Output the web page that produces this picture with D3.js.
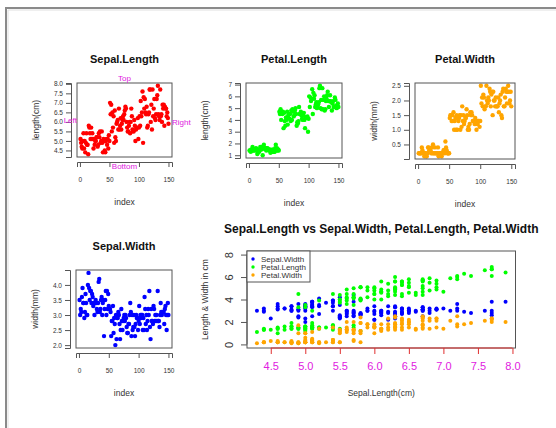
<!DOCTYPE html>
<html><head><meta charset="utf-8">
<script src="https://cdn.jsdelivr.net/npm/d3@7"></script>
<style>body{margin:0;background:#fff}svg{display:block;font-family:"Liberation Sans",Arial,sans-serif}</style>
</head><body><svg id="c" width="556" height="428"></svg>
<script>
const sepalLength=[5.1,4.9,4.7,4.6,5.0,5.4,4.6,5.0,4.4,4.9,5.4,4.8,4.8,4.3,5.8,5.7,5.4,5.1,5.7,5.1,5.4,5.1,4.6,5.1,4.8,5.0,5.0,5.2,5.2,4.7,4.8,5.4,5.2,5.5,4.9,5.0,5.5,4.9,4.4,5.1,5.0,4.5,4.4,5.0,5.1,4.8,5.1,4.6,5.3,5.0,
7.0,6.4,6.9,5.5,6.5,5.7,6.3,4.9,6.6,5.2,5.0,5.9,6.0,6.1,5.6,6.7,5.6,5.8,6.2,5.6,5.9,6.1,6.3,6.1,6.4,6.6,6.8,6.7,6.0,5.7,5.5,5.5,5.8,6.0,5.4,6.0,6.7,6.3,5.6,5.5,5.5,6.1,5.8,5.0,5.6,5.7,5.7,6.2,5.1,5.7,
6.3,5.8,7.1,6.3,6.5,7.6,4.9,7.3,6.7,7.2,6.5,6.4,6.8,5.7,5.8,6.4,6.5,7.7,7.7,6.0,6.9,5.6,7.7,6.3,6.7,7.2,6.2,6.1,6.4,7.2,7.4,7.9,6.4,6.3,6.1,7.7,6.3,6.4,6.0,6.9,6.7,6.9,5.8,6.8,6.7,6.7,6.3,6.5,6.2,5.9];
const sepalWidth=[3.5,3.0,3.2,3.1,3.6,3.9,3.4,3.4,2.9,3.1,3.7,3.4,3.0,3.0,4.0,4.4,3.9,3.5,3.8,3.8,3.4,3.7,3.6,3.3,3.4,3.0,3.4,3.5,3.4,3.2,3.1,3.4,4.1,4.2,3.1,3.2,3.5,3.6,3.0,3.4,3.5,2.3,3.2,3.5,3.8,3.0,3.8,3.2,3.7,3.3,
3.2,3.2,3.1,2.3,2.8,2.8,3.3,2.4,2.9,2.7,2.0,3.0,2.2,2.9,2.9,3.1,3.0,2.7,2.2,2.5,3.2,2.8,2.5,2.8,2.9,3.0,2.8,3.0,2.9,2.6,2.4,2.4,2.7,2.7,3.0,3.4,3.1,2.3,3.0,2.5,2.6,3.0,2.6,2.3,2.7,3.0,2.9,2.9,2.5,2.8,
3.3,2.7,3.0,2.9,3.0,3.0,2.5,2.9,2.5,3.6,3.2,2.7,3.0,2.5,2.8,3.2,3.0,3.8,2.6,2.2,3.2,2.8,2.8,2.7,3.3,3.2,2.8,3.0,2.8,3.0,2.8,3.8,2.8,2.8,2.6,3.0,3.4,3.1,3.0,3.1,3.1,3.1,2.7,3.2,3.3,3.0,2.5,3.0,3.4,3.0];
const petalLength=[1.4,1.4,1.3,1.5,1.4,1.7,1.4,1.5,1.4,1.5,1.5,1.6,1.4,1.1,1.2,1.5,1.3,1.4,1.7,1.5,1.7,1.5,1.0,1.7,1.9,1.6,1.6,1.5,1.4,1.6,1.6,1.5,1.5,1.4,1.5,1.2,1.3,1.4,1.3,1.5,1.3,1.3,1.3,1.6,1.9,1.4,1.6,1.4,1.5,1.4,
4.7,4.5,4.9,4.0,4.6,4.5,4.7,3.3,4.6,3.9,3.5,4.2,4.0,4.7,3.6,4.4,4.5,4.1,4.5,3.9,4.8,4.0,4.9,4.7,4.3,4.4,4.8,5.0,4.5,3.5,3.8,3.7,3.9,5.1,4.5,4.5,4.7,4.4,4.1,4.0,4.4,4.6,4.0,3.3,4.2,4.2,4.2,4.3,3.0,4.1,
6.0,5.1,5.9,5.6,5.8,6.6,4.5,6.3,5.8,6.1,5.1,5.3,5.5,5.0,5.1,5.3,5.5,6.7,6.9,5.0,5.7,4.9,6.7,4.9,5.7,6.0,4.8,4.9,5.6,5.8,6.1,6.4,5.6,5.1,5.6,6.1,5.6,5.5,4.8,5.4,5.6,5.1,5.1,5.9,5.7,5.2,5.0,5.2,5.4,5.1];
const petalWidth=[0.2,0.2,0.2,0.2,0.2,0.4,0.3,0.2,0.2,0.1,0.2,0.2,0.1,0.1,0.2,0.4,0.4,0.3,0.3,0.3,0.2,0.4,0.2,0.5,0.2,0.2,0.4,0.2,0.2,0.2,0.2,0.4,0.1,0.2,0.2,0.2,0.2,0.1,0.2,0.2,0.3,0.3,0.2,0.6,0.4,0.3,0.2,0.2,0.2,0.2,
1.4,1.5,1.5,1.3,1.5,1.3,1.6,1.0,1.3,1.4,1.0,1.5,1.0,1.4,1.3,1.4,1.5,1.0,1.5,1.1,1.8,1.3,1.5,1.2,1.3,1.4,1.4,1.7,1.5,1.0,1.1,1.0,1.2,1.6,1.5,1.6,1.5,1.3,1.3,1.3,1.2,1.4,1.2,1.0,1.3,1.2,1.3,1.3,1.1,1.3,
2.5,1.9,2.1,1.8,2.2,2.1,1.7,1.8,1.8,2.5,2.0,1.9,2.1,2.0,2.4,2.3,1.8,2.2,2.3,1.5,2.3,2.0,2.0,1.8,2.1,1.8,1.8,1.8,2.1,1.6,1.9,2.0,2.2,1.5,1.4,2.3,2.4,1.8,1.8,2.1,2.4,2.3,1.9,2.3,2.5,2.3,1.9,2.0,2.3,1.8];

const smallXTicks=[0,50,100,150];
const sepalLengthTicks=[4.5,5.0,5.5,6.0,6.5,7.0,7.5,8.0];
const petalLengthTicks=[1,2,3,4,5,6,7];
const petalWidthTicks=[0.5,1.0,1.5,2.0,2.5];
const sepalWidthTicks=[2.0,2.5,3.0,3.5,4.0];
const bigXTicks=[4.5,5.0,5.5,6.0,6.5,7.0,7.5,8.0];
const bigYTicks=[0,2,4,6,8];
const seriesNames=["Sepal.Width","Petal.Length","Petal.Width"];
const seriesColors=["#0000ff","#00ff00","#ffa500"];

const svg=d3.select("#c");
const FONT='"Liberation Sans",Arial,sans-serif';

// window frame
svg.append("path").attr("d","M6,430 V8 H560").attr("fill","none").attr("stroke","#8a8a8a").attr("stroke-width",2);
svg.append("path").attr("d","M8,430 V10 H560").attr("fill","none").attr("stroke","#e0e0e0").attr("stroke-width",1);

function ext(vals){const mn=d3.min(vals),mx=d3.max(vals),r=mx-mn;return [mn-0.04*r,mx+0.04*r];}

function smallPanel(o){
  const g=svg.append("g");
  const idx=o.values.map((d,i)=>i+1);
  const x=d3.scaleLinear().domain(ext(idx)).range([o.x0,o.x1]);
  const y=d3.scaleLinear().domain(ext(o.values)).range([o.y1,o.y0]);
  g.append("g").selectAll("circle").data(o.values).join("circle")
    .attr("cx",(d,i)=>x(i+1)).attr("cy",d=>y(d)).attr("r",2.2).attr("fill",o.color);
  g.append("rect").attr("x",o.x0).attr("y",o.y0).attr("width",o.x1-o.x0).attr("height",o.y1-o.y0)
    .attr("fill","none").attr("stroke","#555").attr("stroke-width",1);
  const xa=d3.axisBottom(x).tickValues(smallXTicks).tickSize(5).tickPadding(10).tickFormat(d3.format("d"));
  const gx=g.append("g").attr("transform",`translate(0,${o.y1+5})`).call(xa);
  gx.select(".domain").attr("stroke","#555");
  gx.selectAll(".tick line").attr("stroke","#555");
  gx.selectAll("text").attr("font-family",FONT).attr("font-size",6.5).attr("fill","#333");
  const ya=d3.axisLeft(y).tickValues(o.ticks).tickSize(5).tickPadding(3).tickFormat(o.fmt);
  const gy=g.append("g").attr("transform",`translate(${o.x0-6},0)`).call(ya);
  gy.select(".domain").attr("stroke","#555");
  gy.selectAll(".tick line").attr("stroke","#555");
  gy.selectAll("text").attr("font-family",FONT).attr("font-size",6.5).attr("fill","#333");
  const cx=(o.x0+o.x1)/2, cy=(o.y0+o.y1)/2;
  g.append("text").attr("x",cx).attr("y",o.y0-20).attr("text-anchor","middle").attr("font-weight","bold")
    .attr("font-size",11).attr("fill","#111").text(o.title);
  g.append("text").attr("x",cx).attr("y",o.y1+48).attr("text-anchor","middle").attr("font-size",8.5).attr("fill","#333").text("index");
  g.append("text").attr("transform",`translate(${o.x0-38},${cy}) rotate(-90)`).attr("text-anchor","middle")
    .attr("font-size",8.5).attr("fill","#333").text(o.ylab);
  return {g,x,y};
}

const p1=smallPanel({values:sepalLength,x0:77,x1:172,y0:83,y1:157,color:"#ff0000",ticks:sepalLengthTicks,fmt:d3.format(".1f"),title:"Sepal.Length",ylab:"length(cm)"});
const mag="#e020e0";
const cx1=(77+172)/2, cy1=(83+157)/2;
p1.g.append("text").attr("x",cx1).attr("y",81).attr("text-anchor","middle").attr("font-size",8).attr("fill",mag).text("Top");
p1.g.append("text").attr("x",cx1).attr("y",169).attr("text-anchor","middle").attr("font-size",8).attr("fill",mag).text("Bottom");
p1.g.append("text").attr("x",77).attr("y",cy1+3).attr("text-anchor","end").attr("font-size",8).attr("fill",mag).text("Left");
p1.g.append("text").attr("x",172).attr("y",cy1+5).attr("text-anchor","start").attr("font-size",8).attr("fill",mag).text("Right");

smallPanel({values:petalLength,x0:246,x1:342,y0:83,y1:158,color:"#00ff00",ticks:petalLengthTicks,fmt:d3.format("d"),title:"Petal.Length",ylab:"length(cm)"});
smallPanel({values:petalWidth,x0:415,x1:515,y0:83,y1:159,color:"#ffa500",ticks:petalWidthTicks,fmt:d3.format(".1f"),title:"Petal.Width",ylab:"width(mm)"});
smallPanel({values:sepalWidth,x0:76,x1:172,y0:270,y1:348,color:"#0000ff",ticks:sepalWidthTicks,fmt:d3.format(".1f"),title:"Sepal.Width",ylab:"width(mm)"});

// big panel
(function(){
  const X0=247,X1=515.5,Y0=251,Y1=348;
  const g=svg.append("g");
  const x=d3.scaleLinear().domain(ext(sepalLength)).range([X0,X1]);
  const y=d3.scaleLinear().domain([-0.32,8.32]).range([Y1,Y0]);
  const series=[sepalWidth,petalLength,petalWidth];
  series.forEach((s,k)=>{
    g.append("g").selectAll("circle").data(s).join("circle")
      .attr("cx",(d,i)=>x(sepalLength[i])).attr("cy",d=>y(d)).attr("r",2).attr("fill",seriesColors[k]);
  });
  g.append("rect").attr("x",X0).attr("y",Y0).attr("width",X1-X0).attr("height",Y1-Y0)
    .attr("fill","none").attr("stroke","#555").attr("stroke-width",1);
  const xa=d3.axisBottom(x).tickValues(bigXTicks).tickSize(6).tickPadding(8).tickFormat(d3.format(".1f"));
  const gx=g.append("g").attr("transform",`translate(0,${Y1})`).call(xa);
  gx.select(".domain").remove();
  gx.append("line").attr("x1",x(4.5)).attr("x2",x(8)).attr("y1",0).attr("y2",0).attr("stroke","#e03030");
  gx.selectAll(".tick line").attr("stroke","#e03030");
  gx.selectAll("text").attr("font-family",FONT).attr("font-size",11).attr("fill",mag);
  const ya=d3.axisLeft(y).tickValues(bigYTicks).tickSize(6).tickPadding(0).tickFormat(d3.format("d"));
  const gy=g.append("g").attr("transform",`translate(${X0},0)`).call(ya);
  gy.select(".domain").remove();
  gy.append("line").attr("x1",0).attr("x2",0).attr("y1",y(0)).attr("y2",y(8)).attr("stroke","#555");
  gy.selectAll(".tick line").attr("stroke","#555");
  gy.selectAll("text").attr("font-family",FONT).attr("font-size",11).attr("fill","#333")
    .attr("x",-18).attr("text-anchor","middle").attr("transform","rotate(-90,-18,0)").attr("dy","0.35em");
  g.append("text").attr("x",(X0+X1)/2).attr("y",233).attr("text-anchor","middle").attr("font-weight","bold")
    .attr("font-size",12).attr("fill","#111").text("Sepal.Length vs Sepal.Width, Petal.Length, Petal.Width");
  g.append("text").attr("x",(X0+X1)/2).attr("y",396).attr("text-anchor","middle").attr("font-size",8.5).attr("fill","#333").text("Sepal.Length(cm)");
  g.append("text").attr("transform",`translate(${208},${(Y0+Y1)/2}) rotate(-90)`).attr("text-anchor","middle")
    .attr("font-size",8.5).attr("fill","#333").text("Length & Width in cm");
  const lg=g.append("g");
  lg.append("rect").attr("x",X0).attr("y",Y0).attr("width",63).attr("height",31).attr("fill","#fff").attr("stroke","#555");
  seriesNames.forEach((n,k)=>{
    const yy=Y0+8+k*8;
    lg.append("circle").attr("cx",X0+6).attr("cy",yy).attr("r",1.7).attr("fill",seriesColors[k]);
    lg.append("text").attr("x",X0+14).attr("y",yy+3).attr("font-size",8).attr("fill","#333").text(n);
  });
})();
</script></body></html>
